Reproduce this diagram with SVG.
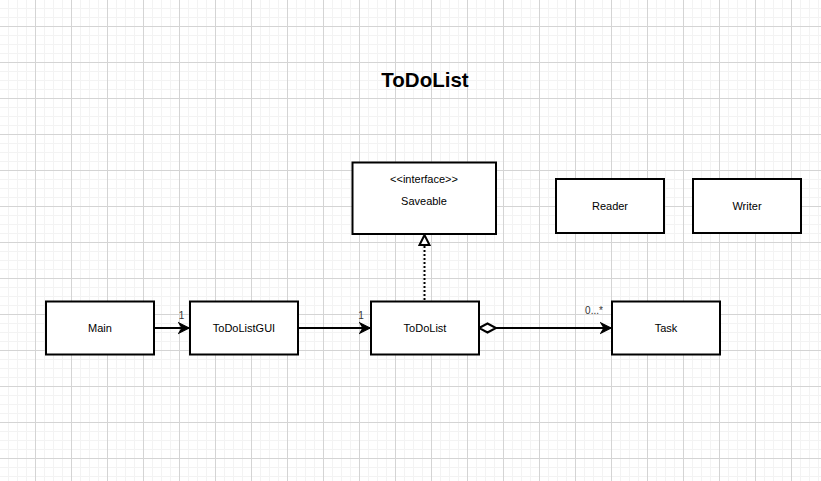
<svg xmlns="http://www.w3.org/2000/svg" width="821" height="481" viewBox="0 0 821 481">
  <style>
    .box { fill: #ffffff; stroke: #000000; stroke-width: 2; }
    .lbl { font-family: "Liberation Sans", Arial, sans-serif; font-size: 11px; fill: #000000; text-anchor: middle; dominant-baseline: central; }
    .mult { font-family: "Liberation Sans", Arial, sans-serif; font-size: 10px; fill: #333333; text-anchor: middle; }
    .title { font-family: "Liberation Sans", Arial, sans-serif; font-size: 20.5px; font-weight: bold; fill: #000000; text-anchor: middle; }
    .edge { fill: none; stroke: #000000; stroke-width: 2; }
  </style>
  <defs>
    <pattern id="grid" x="35" y="26" width="36" height="36" patternUnits="userSpaceOnUse">
      <path d="M9.5 0V36M18.5 0V36M27.5 0V36M0 9.5H36M0 18.5H36M0 27.5H36" fill="none" stroke="#f3f3f3" stroke-width="1"/>
      <path d="M0.5 0V36M0 0.5H36" fill="none" stroke="#d4d4d4" stroke-width="1"/>
    </pattern>
    <marker id="arrow" markerUnits="userSpaceOnUse" markerWidth="14" markerHeight="14" refX="11" refY="7" orient="auto">
      <path d="M1,2 L11,7 L1,12 L4,7 Z" fill="#000000" stroke="#000000" stroke-width="1.2" stroke-linejoin="miter"/>
    </marker>
    <marker id="diamond" markerUnits="userSpaceOnUse" markerWidth="22" markerHeight="12" refX="1" refY="6" orient="auto">
      <path d="M1,6 L9.5,1.5 L18,6 L9.5,10.5 Z" fill="#ffffff" stroke="#000000" stroke-width="2"/>
    </marker>
    <marker id="triangle" markerUnits="userSpaceOnUse" markerWidth="16" markerHeight="14" refX="12" refY="7" orient="auto">
      <path d="M2,2 L12,7 L2,12 Z" fill="#ffffff" stroke="#000000" stroke-width="2"/>
    </marker>
  </defs>

  <rect x="0" y="0" width="821" height="481" fill="#ffffff"/>
  <rect x="0" y="0" width="821" height="481" fill="url(#grid)"/>

  <text class="title" x="425" y="87">ToDoList</text>

  <g id="connectors">
    <line class="edge" x1="155" y1="328" x2="189" y2="328" marker-end="url(#arrow)"/>
    <text class="mult" x="181.5" y="318.5">1</text>
    <line class="edge" x1="299" y1="328" x2="370" y2="328" marker-end="url(#arrow)"/>
    <text class="mult" x="361" y="318.5">1</text>
    <line class="edge" x1="479" y1="328" x2="611" y2="328" marker-start="url(#diamond)" marker-end="url(#arrow)"/>
    <text class="mult" x="594" y="313.5">0...*</text>
    <line class="edge" x1="424.5" y1="300" x2="424.5" y2="245" stroke-dasharray="2 2"/>
    <line x1="424.5" y1="245" x2="424.5" y2="235" stroke="none" marker-end="url(#triangle)"/>
  </g>

  <g id="node-saveable">
    <rect class="box" x="352.5" y="162.5" width="143.5" height="71.5"/>
    <text class="lbl" x="424" y="179">&lt;&lt;interface&gt;&gt;</text>
    <text class="lbl" x="424" y="201">Saveable</text>
  </g>
  <g id="node-reader">
    <rect class="box" x="556" y="179" width="108" height="54"/>
    <text class="lbl" x="610" y="206">Reader</text>
  </g>
  <g id="node-writer">
    <rect class="box" x="693" y="179" width="108" height="54"/>
    <text class="lbl" x="747" y="206">Writer</text>
  </g>
  <g id="node-main">
    <rect class="box" x="46" y="301.5" width="108" height="53"/>
    <text class="lbl" x="100" y="328">Main</text>
  </g>
  <g id="node-todolistgui">
    <rect class="box" x="190" y="301.5" width="108" height="53"/>
    <text class="lbl" x="244" y="328">ToDoListGUI</text>
  </g>
  <g id="node-todolist">
    <rect class="box" x="371" y="301.5" width="108" height="53"/>
    <text class="lbl" x="425" y="328">ToDoList</text>
  </g>
  <g id="node-task">
    <rect class="box" x="612" y="301.5" width="108" height="53"/>
    <text class="lbl" x="666" y="328">Task</text>
  </g>
</svg>
